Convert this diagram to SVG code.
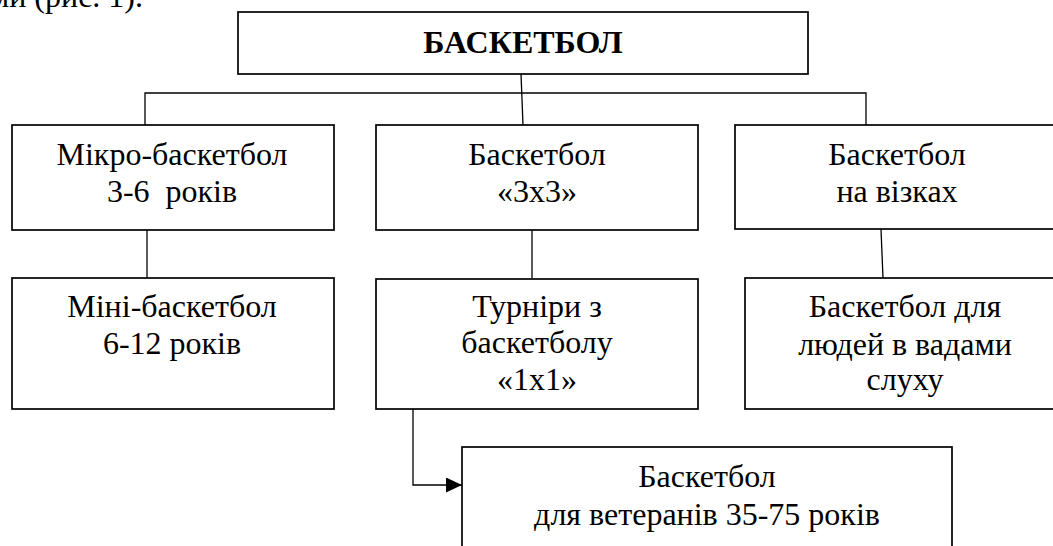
<svg xmlns="http://www.w3.org/2000/svg" width="1053" height="546" viewBox="0 0 1053 546">
<style>
  .box { fill: #ffffff; stroke: #000000; stroke-width: 1.7; }
  .ln { fill: none; stroke: #000000; stroke-width: 1.3; }
  text { font-family: "Liberation Serif", "Tinos", "Times New Roman", "DejaVu Serif", "Noto Serif", serif; font-size: 32px; font-weight: normal; fill: #000000; text-anchor: middle; }
  .title { font-weight: bold; font-size: 32px; }
</style>
<defs>
  <marker id="arr" markerWidth="16" markerHeight="15" refX="16" refY="7.5" orient="auto" markerUnits="userSpaceOnUse">
    <path d="M0,0 L16,7.5 L0,15 Z" fill="#000000"/>
  </marker>
</defs>
<rect width="1053" height="546" fill="#ffffff"/>
<text x="143" y="7" style="text-anchor:end">ами (рис. 1).</text>

<g id="connectors">
  <path class="ln" d="M521,74 L523,125"/>
  <path class="ln" d="M145,125 L145,93 L866,93 L866,125"/>
  <path class="ln" d="M147,230 L147,278"/>
  <path class="ln" d="M532,230 L532,278"/>
  <path class="ln" d="M881,229 L883,278"/>
  <path class="ln" d="M413,409 L413,485 L462,485" marker-end="url(#arr)"/>
</g>

<g id="node-root">
  <rect class="box" x="238" y="12" width="570" height="62"/>
  <text class="title" x="523" y="53">БАСКЕТБОЛ</text>
</g>
<g id="node-micro">
  <rect class="box" x="12" y="125" width="322" height="105"/>
  <text x="172" y="165">Мікро-баскетбол</text>
  <text x="172" y="202" xml:space="preserve">3-6  років</text>
</g>
<g id="node-3x3">
  <rect class="box" x="376" y="125" width="322" height="105"/>
  <text x="537" y="165">Баскетбол</text>
  <text x="537" y="202">«3х3»</text>
</g>
<g id="node-wheel">
  <rect class="box" x="735" y="125" width="330" height="104"/>
  <text x="897" y="165">Баскетбол</text>
  <text x="897" y="202">на візках</text>
</g>
<g id="node-mini">
  <rect class="box" x="12" y="278" width="322" height="131"/>
  <text x="172" y="317">Міні-баскетбол</text>
  <text x="172" y="354">6-12 років</text>
</g>
<g id="node-1x1">
  <rect class="box" x="376" y="279" width="322" height="130"/>
  <text x="537" y="317">Турніри з</text>
  <text x="537" y="353">баскетболу</text>
  <text x="537" y="390">«1х1»</text>
</g>
<g id="node-deaf">
  <rect class="box" x="745" y="278" width="320" height="131"/>
  <text x="905" y="317">Баскетбол для</text>
  <text x="905" y="355">людей в вадами</text>
  <text x="905" y="390">слуху</text>
</g>
<g id="node-veterans">
  <rect class="box" x="462" y="447" width="490" height="110"/>
  <text x="707" y="487">Баскетбол</text>
  <text x="707" y="525">для ветеранів 35-75 років</text>
</g>
</svg>
